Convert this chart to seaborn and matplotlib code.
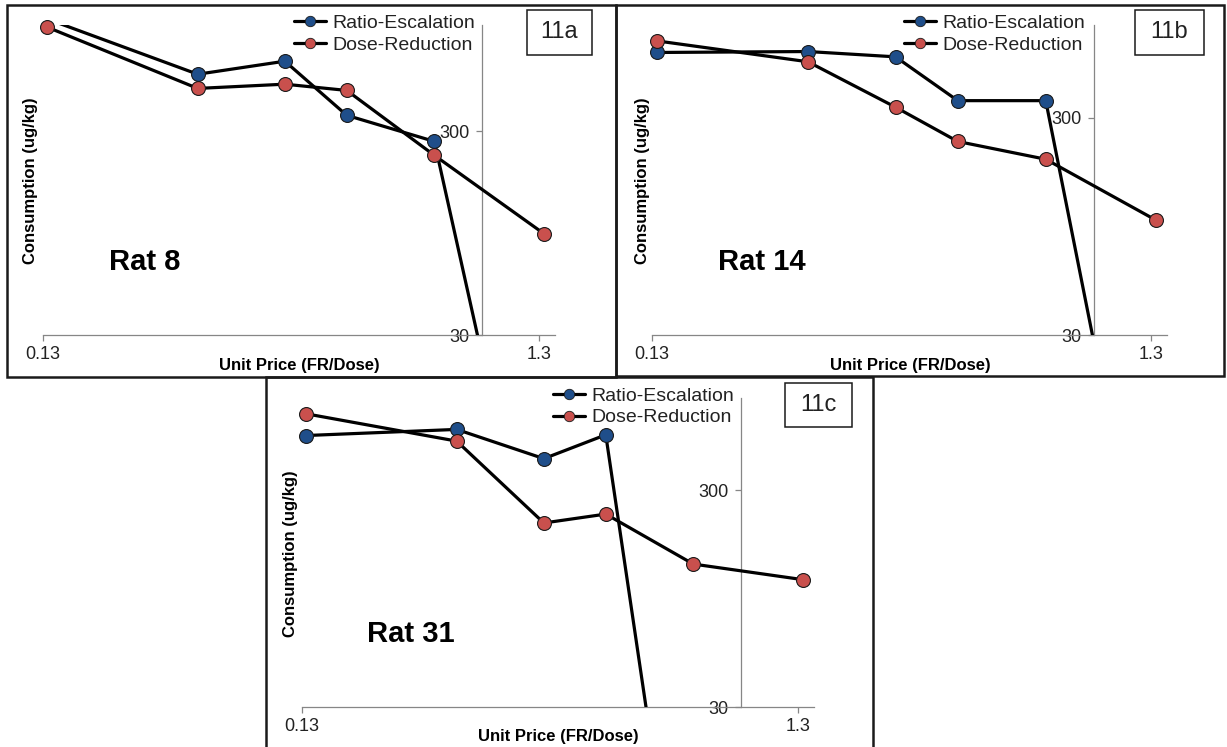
import matplotlib
matplotlib.use("Agg")
import matplotlib.pyplot as plt
from matplotlib.lines import Line2D
from matplotlib.patches import Rectangle
from matplotlib.ticker import FixedLocator, FixedFormatter, NullLocator
import seaborn as sns
import pandas as pd

# Unit price (FR/Dose) of each session
unit_price = [0.133, 0.267, 0.4, 0.533, 0.8, 1.333]

# Consumption (ug/kg) per rat and procedure
rat8_ratio = [1070, 573, 664, 360, 268, 1]
rat8_dose = [975, 488, 512, 477, 229, 94]
rat14_ratio = [598, 604, 571, 359, 359, 1]
rat14_dose = [676, 542, 335, 233, 193, 101]
rat31_ratio = [537, 573, 420, 541, 1]
rat31_dose = [676, 506, 212, 233, 137, 116]

series_names = ["Ratio-Escalation", "Dose-Reduction"]
x_ticks = [0.13, 1.3]
x_tick_labels = ["0.13", "1.3"]
y_ticks = [30, 300]
y_tick_labels = ["30", "300"]

sns.set_theme(style="white")
plt.rcParams["font.family"] = ["Liberation Sans", "DejaVu Sans"]

W, H = 1227, 747
fig = plt.figure(figsize=(W / 100, H / 100), dpi=100)
fig.patch.set_facecolor("white")

BLUE = "#1F4E8A"
RED = "#C9504D"
EDGE = "#1a1a1a"
AXIS = "#868686"
TXT = "#222222"


def px_rect(l, t, r, b):
    return [l / W, 1 - b / H, (r - l) / W, (b - t) / H]


def fx(x):
    return x / W


def fy(y):
    return 1 - y / H


panels = [
    dict(ratio=rat8_ratio, dose=rat8_dose, rat="Rat 8", tag="11a", ymax=1000,
         box=(7, 5, 616, 377), ax=(42.5, 25, 555, 335), rat_xy=(109, 262),
         tag_box=(527, 10, 592, 55), leg=(294, 14), ylab=(31, 181), xlab=(299, 365)),
    dict(ratio=rat14_ratio, dose=rat14_dose, rat="Rat 14", tag="11b", ymax=800,
         box=(616, 5, 1224, 376), ax=(652, 25, 1167, 335), rat_xy=(718, 262),
         tag_box=(1135, 10, 1204, 55), leg=(904, 14), ylab=(643, 181), xlab=(910, 365)),
    dict(ratio=rat31_ratio, dose=rat31_dose, rat="Rat 31", tag="11c", ymax=800,
         box=(266, 377, 873, 760), ax=(301.5, 398, 814, 707), rat_xy=(367, 634),
         tag_box=(785, 383, 852, 427), leg=(553, 387), ylab=(291, 554), xlab=(558, 736)),
]

for p in panels:
    # panel frame
    l, t, r, b = p["box"]
    fig.patches.append(Rectangle((fx(l), fy(b)), (r - l) / W, (b - t) / H,
                                 transform=fig.transFigure, fill=False,
                                 edgecolor=EDGE, linewidth=1.8, zorder=10))

    ax = fig.add_axes(px_rect(*p["ax"]))
    ax.set_facecolor("none")
    ax.set_xscale("log")
    ax.set_yscale("log")
    ymin, ymax = 30, p["ymax"]
    ax.set_xlim(0.13, 1.4)
    ax.set_ylim(ymin, ymax)

    for name, vals, col, zl in [(series_names[0], p["ratio"], BLUE, 3),
                                (series_names[1], p["dose"], RED, 5)]:
        df = pd.DataFrame({"price": unit_price[:len(vals)], "cons": vals})
        sns.lineplot(data=df, x="price", y="cons", color="black", linewidth=2.3,
                     ax=ax, zorder=zl, errorbar=None, legend=False)
        shown = df[(df["cons"] >= ymin) & (df["cons"] <= ymax)]
        sns.scatterplot(data=shown, x="price", y="cons", color=col, s=100,
                        edgecolor=EDGE, linewidth=0.8, ax=ax, zorder=zl + 1,
                        clip_on=False, legend=False)

    for side in ["top", "right"]:
        ax.spines[side].set_visible(False)
    ax.spines["left"].set_position(("data", 1.0))
    for side in ["left", "bottom"]:
        ax.spines[side].set_color(AXIS)
        ax.spines[side].set_linewidth(0.9)
        ax.spines[side].set_zorder(2)

    ax.xaxis.set_major_locator(FixedLocator(x_ticks))
    ax.xaxis.set_major_formatter(FixedFormatter(x_tick_labels))
    ax.yaxis.set_major_locator(FixedLocator(y_ticks))
    ax.yaxis.set_major_formatter(FixedFormatter(y_tick_labels))
    ax.xaxis.set_minor_locator(NullLocator())
    ax.yaxis.set_minor_locator(NullLocator())
    ax.tick_params(axis="both", which="major", direction="out", length=4,
                   width=0.9, color=AXIS, labelsize=13, labelcolor=TXT,
                   bottom=True, left=True)
    ax.tick_params(axis="x", pad=4)
    ax.tick_params(axis="y", pad=5)
    ax.set_xlabel("")
    ax.set_ylabel("")

    # legend
    handles = [
        Line2D([], [], color="black", lw=2.3, marker="o", markersize=7.5,
               markerfacecolor=BLUE, markeredgecolor=EDGE, markeredgewidth=0.6),
        Line2D([], [], color="black", lw=2.3, marker="o", markersize=7.5,
               markerfacecolor=RED, markeredgecolor=EDGE, markeredgewidth=0.6),
    ]
    lx, ly = p["leg"]
    ax.legend(handles, series_names, loc="upper left",
              bbox_to_anchor=(fx(lx), fy(ly)), bbox_transform=fig.transFigure,
              frameon=False, fontsize=14, handlelength=1.65, handletextpad=0.3,
              labelspacing=0.22, borderpad=0, borderaxespad=0,
              labelcolor=TXT)

    # axis titles
    fig.text(fx(p["ylab"][0]), fy(p["ylab"][1]), "Consumption (ug/kg)",
             rotation=90, ha="center", va="center", fontsize=12,
             fontweight="bold", color="black")
    fig.text(fx(p["xlab"][0]), fy(p["xlab"][1]), "Unit Price (FR/Dose)",
             ha="center", va="center", fontsize=12, fontweight="bold",
             color="black")

    # rat label
    fig.text(fx(p["rat_xy"][0]), fy(p["rat_xy"][1]), p["rat"], ha="left",
             va="center", fontsize=21, fontweight="bold", color="black")

    # panel tag box
    tl, tt, tr, tb = p["tag_box"]
    fig.patches.append(Rectangle((fx(tl), fy(tb)), (tr - tl) / W, (tb - tt) / H,
                                 transform=fig.transFigure, fill=False,
                                 edgecolor=EDGE, linewidth=1.1, zorder=10))
    fig.text(fx((tl + tr) / 2), fy((tt + tb) / 2), p["tag"], ha="center",
             va="center", fontsize=17, color=TXT)

fig.savefig("out.png", dpi=100, facecolor="white")
